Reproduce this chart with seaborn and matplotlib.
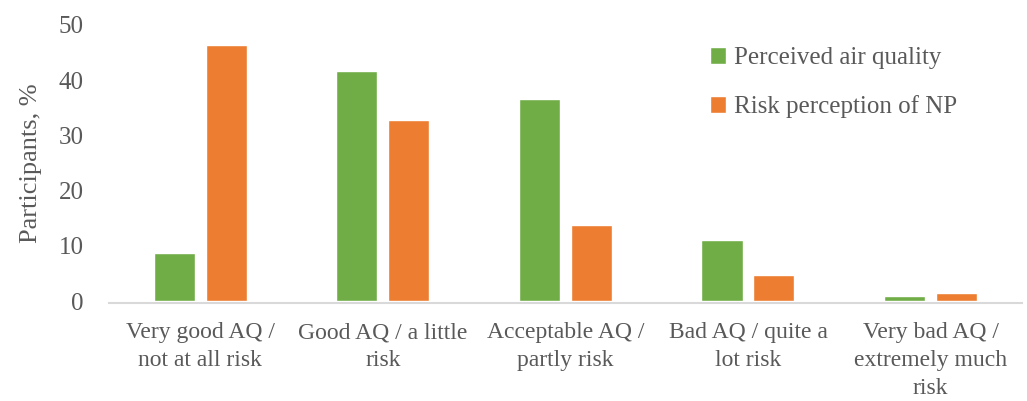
import matplotlib
matplotlib.use("Agg")
import matplotlib.pyplot as plt
import seaborn as sns
import pandas as pd

categories = ["Very good AQ /\nnot at all risk", "Good AQ / a little\nrisk",
              "Acceptable AQ /\npartly risk", "Bad AQ / quite a\nlot risk",
              "Very bad AQ /\nextremely much\nrisk"]
series_names = ["Perceived air quality", "Risk perception of NP"]
air_quality = [8.7, 41.7, 36.5, 11.1, 1.0]
risk_np = [46.3, 32.7, 13.8, 4.8, 1.4]
yticks = [0, 10, 20, 30, 40, 50]
colors = ["#70AD47", "#ED7D31"]

df = pd.DataFrame({
    "category": categories * 2,
    "series": [series_names[0]] * 5 + [series_names[1]] * 5,
    "value": air_quality + risk_np,
})

sns.set_theme(style="white")
plt.rcParams['font.family'] = ['Liberation Serif', 'DejaVu Serif']
grey = "#595959"

fig = plt.figure(figsize=(10.27, 4.01), dpi=100)
ax = fig.add_axes([0.106, 0.249, 0.889, 0.689])
sns.barplot(data=df, x="category", y="value", hue="series", palette=colors,
            width=0.569, gap=0.21, ax=ax, saturation=1, errorbar=None)

ax.set_ylim(0, 50)
ax.set_yticks(yticks)
ax.set_xlim(-0.5, 4.5)
ax.set_xlabel("")
ax.set_ylabel("Participants, %", fontsize=19, color=grey, labelpad=12)
ax.tick_params(axis="both", length=0, colors=grey)
ax.tick_params(axis="y", pad=18, labelsize=18)
ax.tick_params(axis="x", pad=14, labelsize=17)
for s in ["top", "right", "left"]:
    ax.spines[s].set_visible(False)
ax.spines["bottom"].set_color("#D9D9D9")
ax.spines["bottom"].set_linewidth(1.5)
ax.spines["bottom"].set_position(("data", -0.3))

leg = ax.legend(loc="upper left", bbox_to_anchor=(0.634, 1.0), frameon=False,
                fontsize=18, labelcolor=grey, handlelength=0.65, handleheight=0.65,
                handletextpad=0.3, labelspacing=1.02)

fig.canvas.draw()
for lbl in ax.get_xticklabels():
    lbl.set_linespacing(1.42)

fig.savefig("out.png", dpi=100)
